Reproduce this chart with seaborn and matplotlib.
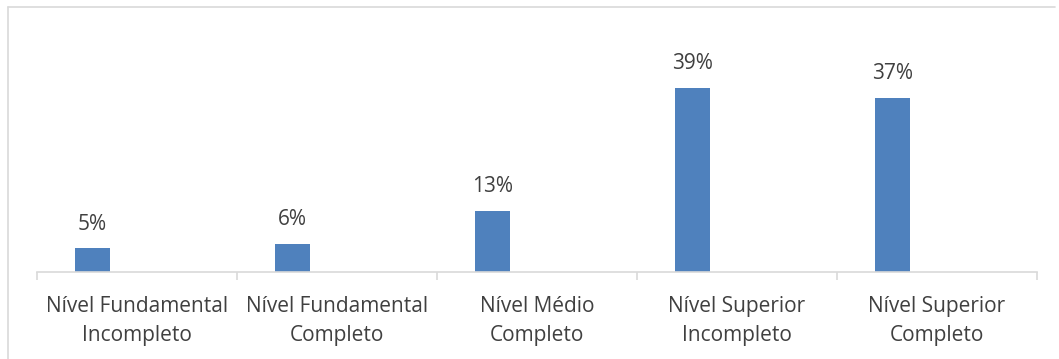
import matplotlib
matplotlib.use("Agg")
import matplotlib.pyplot as plt
from matplotlib.lines import Line2D
import seaborn as sns
import pandas as pd

categories = [
    "Nível Fundamental\nIncompleto",
    "Nível Fundamental\nCompleto",
    "Nível Médio\nCompleto",
    "Nível Superior\nIncompleto",
    "Nível Superior\nCompleto",
]
values = [5, 6, 13, 39, 37]
value_labels = ["5%", "6%", "13%", "39%", "37%"]

BAR = "#4F81BD"
GRID = "#D9D9D9"
TEXT = "#404040"

sns.set_theme(style="white")
plt.rcParams["font.family"] = ["Open Sans", "DejaVu Sans"]

W, H = 1059, 359
fig = plt.figure(figsize=(W / 100, H / 100), dpi=100)
fig.patch.set_facecolor("white")

# chart frame: top and left edges
fx0, fx1 = 7.5 / W, 1055 / W
fy1 = 1 - 6.5 / H
fig.add_artist(Line2D([fx0, fx1], [fy1, fy1], transform=fig.transFigure,
                      color=GRID, linewidth=1.2))
fig.add_artist(Line2D([fx0, fx0], [0, fy1], transform=fig.transFigure,
                      color=GRID, linewidth=1.2))

ax = fig.add_axes([37 / W, 87 / H, 1000 / W, 235.5 / H])
df = pd.DataFrame({"cat": categories, "val": values})
sns.barplot(data=df, x="cat", y="val", color=BAR, width=0.175,
            saturation=1, ax=ax, edgecolor="none")

# bars sit in the left part of each category slot
for p in ax.patches:
    p.set_x(p.get_x() - 0.2225)

ax.set_xlim(-0.5, len(categories) - 0.5)
ax.set_ylim(0, 50)
ax.set_xlabel("")
ax.set_ylabel("")
ax.set_yticks([])

for s in ["top", "right", "left"]:
    ax.spines[s].set_visible(False)
ax.spines["bottom"].set_color(GRID)
ax.spines["bottom"].set_linewidth(1.2)

ax.set_xticks(range(len(categories)))
ax.set_xticklabels(categories, fontsize=15, color=TEXT, linespacing=1.5)
ax.set_xticks([i - 0.5 for i in range(len(categories) + 1)], minor=True)
ax.tick_params(axis="x", which="major", length=0, pad=17)
ax.tick_params(axis="x", which="minor", length=6, color=GRID, width=1.2,
               direction="out", bottom=True)

for container in ax.containers:
    ax.bar_label(container, labels=value_labels, padding=10,
                 fontsize=15, color=TEXT)

fig.savefig("out.png", dpi=100)
